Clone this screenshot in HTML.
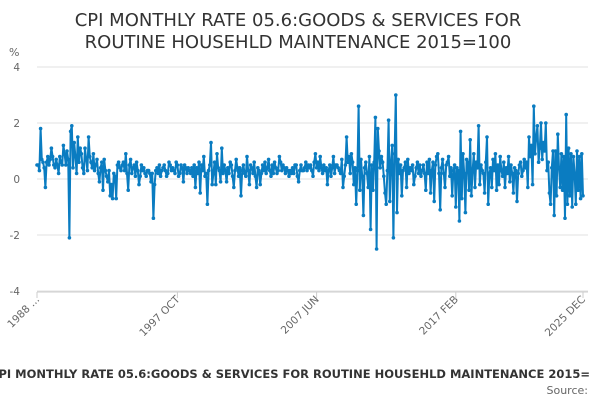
<!DOCTYPE html>
<html><head><meta charset="utf-8"><style>
body{margin:0;background:#fff;font-family:"DejaVu Sans","Liberation Sans",sans-serif;}
#wrap{position:relative;width:600px;height:400px;overflow:hidden;}
</style></head><body>
<div id="wrap">
<svg id="svg" width="600" height="400" xmlns="http://www.w3.org/2000/svg" font-family="DejaVu Sans, Liberation Sans, sans-serif">
<defs><clipPath id="bclip"><rect x="0" y="360" width="589" height="25"/></clipPath></defs>
<text x="298" y="26" text-anchor="middle" font-size="18" fill="#333">CPI MONTHLY RATE 05.6:GOODS &amp; SERVICES FOR</text>
<text x="298" y="48" text-anchor="middle" font-size="18" fill="#333">ROUTINE HOUSEHLD MAINTENANCE 2015=100</text>
<text x="9" y="56" font-size="11" fill="#666">%</text>
<g id="grid"></g><g id="xaxis"></g><g id="series"></g>
<text x="302" y="378" text-anchor="middle" font-size="11.5" font-weight="bold" fill="#333" clip-path="url(#bclip)">CPI MONTHLY RATE 05.6:GOODS &amp; SERVICES FOR ROUTINE HOUSEHLD MAINTENANCE 2015=100</text>
<text x="588" y="394" text-anchor="end" font-size="11" fill="#666">Source:</text>
</svg></div>
<script>
const yTicks=[4,2,0,-2,-4];
const xLabels=["1988 ...","1997 OCT","2007 JUN","2017 FEB","2025 DEC"];
const xLabelIdx=[0,117,233,349,455];
const values=[
.5,.5,.3,1.8,.7,.6,.4,-.3,.6,.8,.5,.7,
1.1,.8,.5,.4,.7,.5,.2,.8,.6,.5,1.2,.9,
.5,1.0,.7,-2.1,1.7,1.9,.4,1.3,.8,.2,1.5,.6,
1.1,.9,.4,.2,1.1,.7,.3,1.5,.8,.6,.4,.9,
.3,.5,.7,.2,-.1,.4,.6,-.4,.7,.3,.1,-.1,
.3,-.6,-.2,-.7,.2,.1,-.7,.5,.6,.4,.3,.5,
.6,.3,.9,.2,-.4,.5,.7,.2,.4,.5,.1,.6,
.3,-.2,.1,.5,.3,.4,.2,.1,.3,.3,.2,-.1,
.2,-1.4,-.2,.3,.4,.2,.5,.1,.3,.4,.5,.3,
.1,.2,.6,.5,.3,.4,.3,.2,.6,.5,.1,.2,
.5,.4,-.1,.5,.4,.2,.4,.3,.2,.4,.1,.5,
-.3,.4,.2,.6,-.5,.5,.3,.8,.1,.2,-.9,.3,
.5,1.3,-.2,.2,.6,-.2,.9,.4,.3,-.1,1.1,.2,
.5,.3,-.1,.4,.2,.6,.5,.1,-.3,.3,.7,.4,
.1,.4,-.6,.3,.5,.2,.1,.8,.3,-.2,.5,.4,
.2,.6,.1,-.3,.4,.3,-.2,.2,.5,.3,.6,.2,
.4,.7,.3,.1,.5,.2,.6,.4,.2,.3,.8,.6,
.3,.5,.4,.2,.4,.3,.1,.3,.2,.4,.2,.5,
.5,.1,-.1,.3,.5,.3,.3,.4,.6,.3,.5,.4,
.5,.3,.1,.6,.9,.4,.6,.3,.8,.4,.2,.5,
.3,.4,-.2,.3,.5,.1,.4,.8,.2,.5,.5,.4,
.3,.2,.7,-.3,.1,.5,1.5,.6,.8,.2,.9,.6,
-.2,.4,-.9,.3,2.6,-.4,.7,.1,-1.3,.4,.6,.2,
-.3,.8,-1.8,.5,-.4,.6,2.2,-2.5,1.8,1.0,.4,.8,
.6,.1,-.5,-.9,.3,2.1,-.8,.6,1.2,-2.1,.9,3.0,
-1.2,.7,.2,.5,-.6,.3,.4,.6,-.3,.7,.2,.4,
.3,.5,-.2,.1,.4,.6,.2,.5,.1,.3,.5,.2,
-.4,.6,.2,.7,-.5,.3,.6,-.8,.5,.8,.9,.2,
-1.1,.4,.7,.2,-.3,.5,.6,.8,.1,.4,-.6,.3,
.5,-1.0,.4,.3,-1.5,1.7,-.7,.9,.2,-1.2,.7,.6,
-.4,1.4,-.6,.3,.9,-.3,.6,.4,1.9,-.2,.5,.3,
.2,-.5,.6,1.5,-.9,.2,.4,-.3,.7,.3,.9,-.4,
.5,-.2,.8,.3,.1,.6,-.3,.4,.2,.8,-.1,.5,
.2,-.5,.4,.3,-.8,.2,.5,.6,.1,.3,.7,.4,
.6,-.3,1.5,.8,1.2,-.2,2.6,.9,1.5,1.9,.6,1.1,
2.0,.7,1.3,1.0,2.0,.3,.6,-.5,-.9,.4,1.0,-1.3,
1.0,-.6,1.6,.4,-.3,.9,-.4,.8,-1.4,2.3,-.9,1.1,
-.6,.9,-1.0,.8,.2,-.9,1.0,-.4,.8,-.7,.9,-.6
];
const NS="http://www.w3.org/2000/svg";
const X0=37,X1=583,Y0=179,PX=28;
function xs(i){return X0+(X1-X0)*i/(values.length-1);}
function ys(v){return Y0-v*PX;}
function mk(t,a,p){const e=document.createElementNS(NS,t);for(const k in a)e.setAttribute(k,a[k]);p.appendChild(e);return e;}
const grid=document.getElementById('grid');
yTicks.forEach(t=>{
  const l=mk('line',{x1:X0,x2:X1+5,y1:ys(t),y2:ys(t),stroke:'#e0e0e0','stroke-width':1},grid);
  
  
  const tx=mk('text',{x:20,y:ys(t)+4,'text-anchor':'end','font-size':10.5,fill:'#666'},grid);
  tx.textContent=t;
  
  
});
const xa=document.getElementById('xaxis');
const ax=mk('line',{x1:X0,x2:X1+5,y1:292,y2:292,stroke:'#ccc'},xa);


xLabels.forEach((s,k)=>{
  const x=xs(xLabelIdx[k]);
  const tk=mk('line',{x1:x,x2:x,y1:292,y2:298,stroke:'#ccc'},xa);
  
  
  const t=mk('text',{x:x+3,y:300,'text-anchor':'end','font-size':10.5,fill:'#666',transform:`rotate(-45 ${x+3} 300)`},xa);
  t.textContent=s;
  
  
});
const sg=document.getElementById('series');
const pl=mk('polyline',{points:values.map((v,i)=>xs(i).toFixed(2)+','+ys(v).toFixed(2)).join(' '),fill:'none',stroke:'#0a7cc1','stroke-width':2,'stroke-linejoin':'round'},sg);


values.forEach((v,i)=>{
  const c=mk('circle',{cx:xs(i),cy:ys(v),r:1.8,fill:'#0a7cc1'},sg);
  
  
});
</script>
</body></html>
